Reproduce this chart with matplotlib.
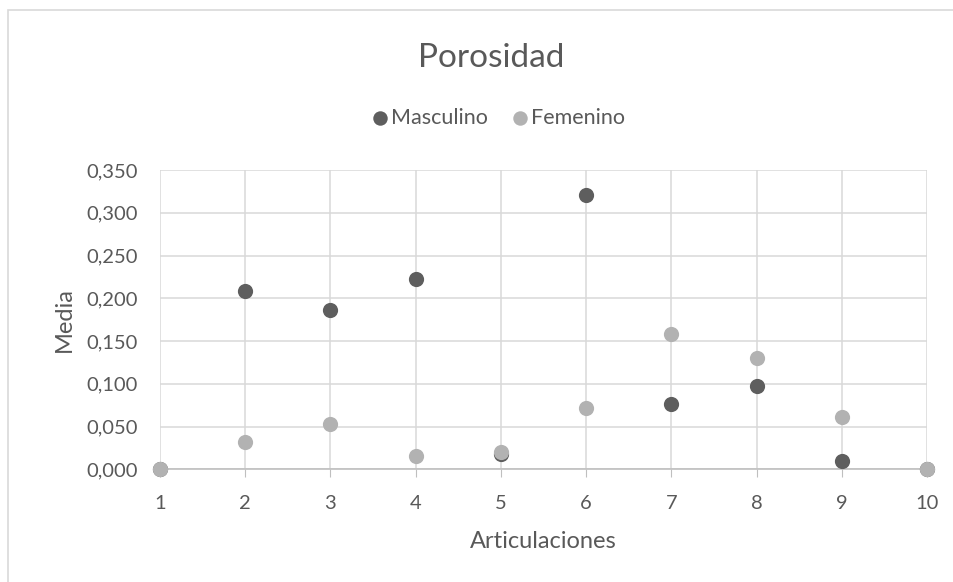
import matplotlib
matplotlib.use("Agg")
import matplotlib.pyplot as plt
from matplotlib.ticker import FuncFormatter, MultipleLocator
from matplotlib.patches import Rectangle

plt.rcParams['font.family'] = ['Lato', 'DejaVu Sans']

articulaciones = [1, 2, 3, 4, 5, 6, 7, 8, 9, 10]
masculino = [0.000, 0.2085, 0.1863, 0.2225, 0.0175, 0.321, 0.0767, 0.0974, 0.0101, 0.000]
femenino = [0.000, 0.032, 0.0526, 0.016, 0.0202, 0.0713, 0.158, 0.1305, 0.0608, 0.000]
x_ticks = [1, 2, 3, 4, 5, 6, 7, 8, 9, 10]

text_color = '#595959'
dark = '#5e5e5e'
light = '#b2b2b2'

fig = plt.figure(figsize=(9.54, 5.82), dpi=100)
# chart border
fig.patches.append(Rectangle((8 / 954, -0.1), 1.2, 1 - 10 / 582 + 0.1, transform=fig.transFigure,
                             fill=False, edgecolor='#d9d9d9', linewidth=1.2))

ax = fig.add_axes([160 / 954, 1 - 469.3 / 582, (927 - 160) / 954, (469.3 - 170) / 582])
ax.scatter(articulaciones, masculino, s=120, color=dark, label='Masculino', zorder=3, clip_on=False, linewidths=0)
ax.scatter(articulaciones, femenino, s=120, color=light, label='Femenino', zorder=4, clip_on=False, linewidths=0)

ax.set_xlim(1, 10)
ax.set_ylim(0, 0.35)
ax.set_xticks(x_ticks)
ax.yaxis.set_major_locator(MultipleLocator(0.05))
ax.yaxis.set_major_formatter(FuncFormatter(lambda v, p: f"{v:.3f}".replace('.', ',')))

ax.grid(True, color='#d9d9d9', linewidth=1.1, zorder=0)
ax.set_axisbelow(True)
for s in ['top', 'right', 'left']:
    ax.spines[s].set_visible(False)
ax.spines['bottom'].set_color('#bfbfbf')
ax.spines['bottom'].set_linewidth(1.2)
ax.tick_params(axis='x', length=6, color='#bfbfbf', labelcolor=text_color, labelsize=14.5, pad=12.5)
ax.tick_params(axis='y', length=0, labelcolor=text_color, labelsize=14.5, pad=16)

ax.set_xlabel('Articulaciones', fontsize=17, color=text_color, labelpad=14)
ax.set_ylabel('Media', fontsize=17, color=text_color, labelpad=8)

fig.text(491 / 954, 1 - 58 / 582, 'Porosidad', ha='center', va='center', fontsize=24, color=text_color)

leg = fig.legend(loc='center', bbox_to_anchor=(497 / 954, 1 - 118 / 582), ncol=2, frameon=False,
                 fontsize=15.5, labelcolor=text_color, handletextpad=0.0, columnspacing=1.0,
                 markerscale=0.95, handlelength=1.0)

fig.savefig('out.png', dpi=100)
